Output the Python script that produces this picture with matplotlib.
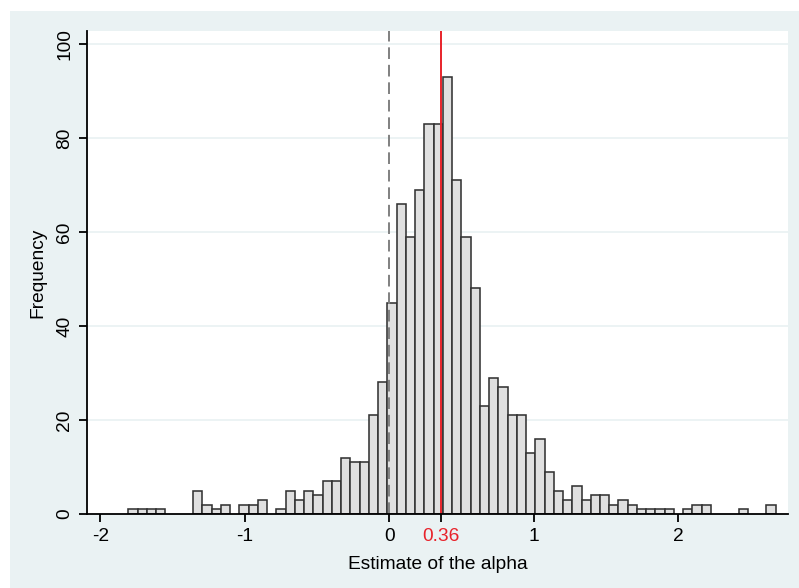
import numpy as np
import matplotlib
matplotlib.use("Agg")
import matplotlib.pyplot as plt
from matplotlib.patches import Rectangle

# ---- data ----
bin_start = -1.806
bin_width = 0.064
counts = [1, 1, 1, 1, 0, 0, 0, 5, 2, 1,
          2, 0, 2, 2, 3, 0, 1, 5, 3, 5,
          4, 7, 7, 12, 11, 11, 21, 28, 45, 66,
          59, 69, 83, 83, 93, 71, 59, 48, 23, 29,
          27, 21, 21, 13, 16, 9, 5, 3, 6, 3,
          4, 4, 2, 3, 2, 1, 1, 1, 1, 0,
          1, 2, 2, 0, 0, 0, 1, 0, 0, 2]
ref_zero = 0.0
mean_alpha = 0.36
xticks = [-2, -1, 0, 0.36, 1, 2]
xticklabels = ["-2", "-1", "0", "0.36", "1", "2"]
yticks = [0, 20, 40, 60, 80, 100]
yticklabels = ["0", "20", "40", "60", "80", "100"]

plt.rcParams['font.family'] = ['Liberation Sans', 'DejaVu Sans']

W, H = 799, 588
fig = plt.figure(figsize=(W / 100, H / 100), dpi=100)
fig.patch.set_facecolor("white")

left, right, top, bottom = 87, 788, 31, 514
ax = fig.add_axes([left / W, (H - bottom) / H, (right - left) / W, (bottom - top) / H])
ax.set_zorder(2)
ax.set_facecolor("white")

# Stata-like blue-gray background region (behind the axes)
bg = Rectangle((10 / W, 0), 1 - 10 / W, 1 - 11 / H,
               transform=fig.transFigure, facecolor="#EAF2F3",
               edgecolor="none", zorder=-10)
fig.add_artist(bg)

counts_arr = np.array(counts)
edges = bin_start + bin_width * np.arange(len(counts))
mask = counts_arr > 0
ax.bar(edges[mask], counts_arr[mask], width=bin_width, align="edge",
       facecolor="#E0E0E0", edgecolor="#333333", linewidth=1.15, zorder=3)

ax.set_xlim(-2.092, 2.759)
ax.set_ylim(0, 102.8)

for yv in yticks[1:]:
    ax.axhline(yv, color="#EAF2F3", linewidth=1.3, zorder=1)

ax.axvline(ref_zero, color="#808080", linewidth=1.4, dashes=(6, 3), zorder=4)
ax.axvline(mean_alpha, color="#E8222A", linewidth=1.4, zorder=4)

ax.set_xticks(xticks)
ax.set_xticklabels(xticklabels)
ax.set_yticks(yticks)
ax.set_yticklabels(yticklabels, rotation=90, va="center")

for side in ["top", "right"]:
    ax.spines[side].set_visible(False)
for side in ["left", "bottom"]:
    ax.spines[side].set_linewidth(1.3)
    ax.spines[side].set_color("black")
    ax.spines[side].set_zorder(5)

ax.tick_params(axis="both", direction="out", length=6, width=1.3, labelsize=13.8,
               colors="black", pad=4)
ax.tick_params(axis="x", pad=4)
ax.tick_params(axis="y", pad=4)
ax.get_xticklabels()[3].set_color("#E8222A")

ax.set_xlabel("Estimate of the alpha", fontsize=13.8, labelpad=8)
ax.set_ylabel("Frequency", fontsize=13.8, labelpad=7)

fig.savefig("out.png", dpi=100, facecolor=fig.get_facecolor())
